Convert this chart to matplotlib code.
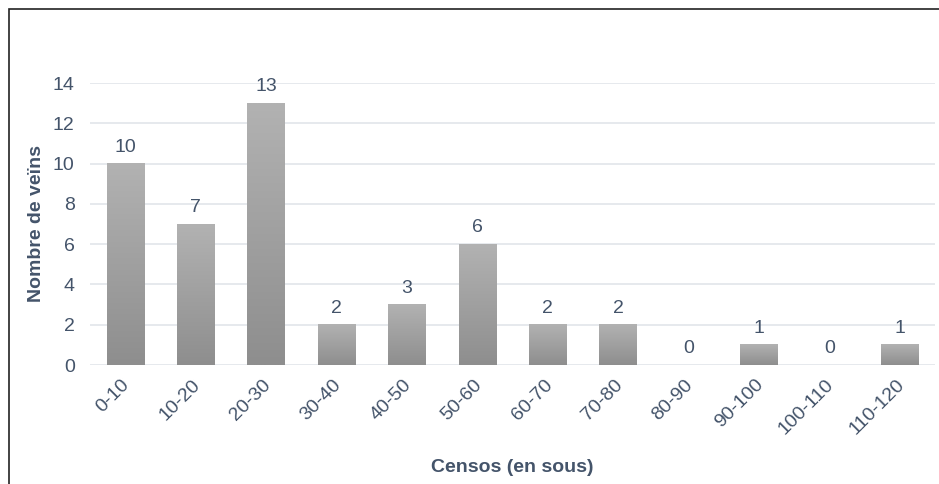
import matplotlib
matplotlib.use("Agg")
import matplotlib.pyplot as plt
import matplotlib.transforms as mtrans
import numpy as np
from matplotlib.patches import Rectangle
from matplotlib.colors import LinearSegmentedColormap

categories = ["0-10", "10-20", "20-30", "30-40", "40-50", "50-60", "60-70",
              "70-80", "80-90", "90-100", "100-110", "110-120"]
values = [10, 7, 13, 2, 3, 6, 2, 2, 0, 1, 0, 1]
yticks = [0, 2, 4, 6, 8, 10, 12, 14]

plt.rcParams['font.family'] = ['Liberation Sans', 'DejaVu Sans']
txt = '#44546a'
fs = 14

fig = plt.figure(figsize=(9.39, 4.84), dpi=100)
W, H = 939, 484
ax = fig.add_axes([90 / W, 1 - 365 / H, 845 / W, (365 - 83) / H])

x = np.arange(len(categories))
bw = 0.53
bars = ax.bar(x, values, width=bw, color='none', edgecolor='none', zorder=3)
cmap = LinearSegmentedColormap.from_list('g', ['#8e8e8e', '#b2b2b2'])
grad = np.linspace(0, 1, 256).reshape(-1, 1)
for b, v in zip(bars, values):
    if v <= 0:
        continue
    x0 = b.get_x()
    ax.imshow(grad, cmap=cmap, aspect='auto', origin='lower',
              extent=[x0, x0 + bw, 0, v], zorder=3, interpolation='bilinear')

for xi, v in zip(x, values):
    ax.text(xi, v + 0.38, str(v), ha='center', va='bottom', fontsize=fs,
            color=txt, clip_on=False)

ax.set_xlim(-0.5, len(categories) - 0.5)
ax.set_ylim(0, 14)
ax.set_yticks(yticks)
ax.set_yticklabels([str(t) for t in yticks])
ax.set_xticks(x)
ax.set_xticklabels(categories, rotation=45, ha='right', rotation_mode='anchor')
ax.tick_params(axis='both', length=0, labelsize=fs, labelcolor=txt)
ax.tick_params(axis='y', pad=11)
ax.tick_params(axis='x', pad=8)
off = mtrans.ScaledTranslation(-4 / 100, 0, fig.dpi_scale_trans)
for lab in ax.get_xticklabels():
    lab.set_transform(lab.get_transform() + off)
ax.grid(axis='y', color='#e1e5ea', lw=1.2, zorder=0)
ax.set_axisbelow(True)
for s in ax.spines.values():
    s.set_visible(False)

ax.set_ylabel('Nombre de veïns', fontsize=fs, fontweight='bold', color=txt, labelpad=6)
ax.set_xlabel('Censos (en sous)', fontsize=fs, fontweight='bold', color=txt, labelpad=15)

fig.patches.append(Rectangle((9 / W, -0.05), 1.1, 1 - 9 / H + 0.05,
                             transform=fig.transFigure, fill=False,
                             edgecolor='#222222', lw=1.2))

fig.savefig('out.png', dpi=100)
